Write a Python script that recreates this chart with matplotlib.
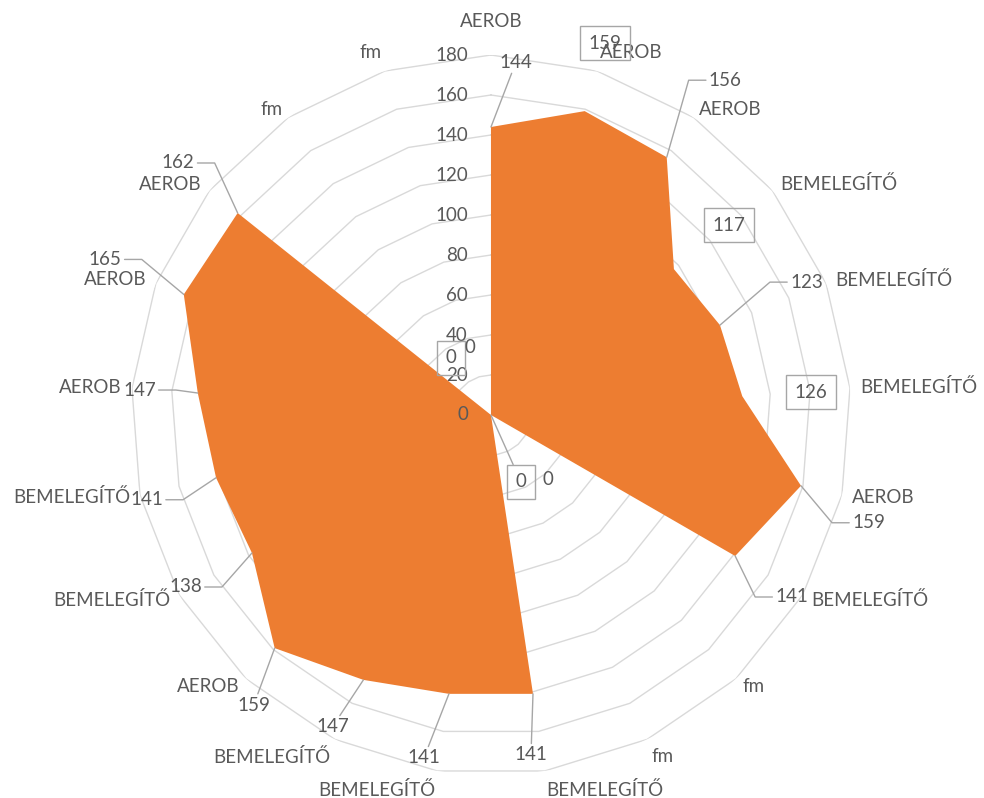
import numpy as np
import matplotlib
matplotlib.use('Agg')
import matplotlib.pyplot as plt

plt.rcParams['font.family'] = ['Lato', 'DejaVu Sans']

# one spoke per session, clockwise from the top
categories = ['AEROB', 'AEROB', 'AEROB', 'BEMELEGÍTŐ', 'BEMELEGÍTŐ',
              'BEMELEGÍTŐ', 'AEROB', 'BEMELEGÍTŐ', 'fm', 'fm',
              'BEMELEGÍTŐ', 'BEMELEGÍTŐ', 'BEMELEGÍTŐ', 'AEROB', 'BEMELEGÍTŐ',
              'BEMELEGÍTŐ', 'AEROB', 'AEROB', 'AEROB', 'fm', 'fm']
values = [144, 159, 156, 117, 123, 126, 159, 141, 0, 0,
          141, 141, 147, 159, 138, 141, 147, 165, 162, 0, 0]
r_ticks = [0, 20, 40, 60, 80, 100, 120, 140, 160, 180]

# value label placement: pixel offset from the point and text alignment
label_offsets = [(25, 65), (20, 68), (42, 77), (55, 44), (70, 43), (69, 4),
                 (51, -37), (40, -41), (57, -65), (30, -67), (-2, -61),
                 (-25, -64), (-31, -47), (-21, -57), (-50, -34), (-53, -22),
                 (-42, 3), (-62, 35), (-43, 50), (-40, 57), (-21, 67)]
label_ha = ['center', 'center', 'left', 'center', 'left', 'center',
            'left', 'left', 'center', 'center', 'center',
            'center', 'center', 'center', 'right', 'right',
            'right', 'right', 'right', 'center', 'center']
boxed = [1, 3, 5, 9, 19]
leaders = [0, 2, 4, 6, 7, 9, 10, 11, 12, 13, 14, 15, 16, 17, 18]
elbow_gap = 20
cat_nudge = {0: (0, 15)}

fill_color = '#ED7D31'
grid_color = '#d9d9d9'
line_color = '#a6a6a6'
text_color = '#595959'
font_size = 13.5

n = len(values)
theta = np.arange(n) * 2 * np.pi / n

fig = plt.figure(figsize=(9.84, 7.98), dpi=100)
ax = fig.add_axes([0.1331, 0.0288, 0.7317, 0.9023], projection='polar')
ax.set_theta_zero_location('N')
ax.set_theta_direction(-1)
ax.set_ylim(0, 180)
ax.grid(False)
ax.set_xticks([])
ax.set_yticks([])
ax.spines['polar'].set_visible(False)

# polygon rings instead of circles
ring_theta = np.append(theta, theta[0])
for r in r_ticks[1:]:
    ax.plot(ring_theta, [r] * (n + 1), color=grid_color, lw=1, zorder=1)

ax.fill(theta, values, color=fill_color, lw=0, zorder=2)

# value axis labels along the top spoke
for t in r_ticks:
    ax.annotate(str(t), xy=(0, t), xytext=(-23, 0), textcoords='offset pixels',
                ha='right', va='center', fontsize=font_size, color=text_color,
                annotation_clip=False, zorder=5)

# category names outside the outer ring
for i, cat in enumerate(categories):
    s, c = np.sin(theta[i]), np.cos(theta[i])
    ha = 'center' if abs(s) < 0.05 else ('left' if s > 0 else 'right')
    va = 'center'
    if c > 0.9:
        va = 'bottom'
    elif c < -0.9:
        va = 'top'
    ax.annotate(cat, xy=(theta[i], 185), xytext=cat_nudge.get(i, (0, 0)),
                textcoords='offset pixels', ha=ha, va=va, fontsize=font_size,
                color=text_color, annotation_clip=False, zorder=5)

# value labels, side ones get a bent leader line
for i, v in enumerate(values):
    dx, dy = label_offsets[i]
    ha = label_ha[i]
    bbox = None
    if i in boxed:
        bbox = dict(boxstyle='square,pad=0.45', fc='none', ec=line_color, lw=1)
    arrow = None
    if i in leaders:
        arrow = dict(arrowstyle='-', color=line_color, lw=1,
                     shrinkA=0, shrinkB=0)
        if ha != 'center':
            side = 1 if ha == 'left' else -1
            corner_x = dx - side * elbow_gap
            ang = np.degrees(np.arctan2(dy, corner_x))
            arrow['relpos'] = (0, 0.5) if side == 1 else (1, 0.5)
            arrow['connectionstyle'] = 'angle,angleA=0,angleB=%.1f,rad=0' % ang
    ax.annotate(str(v), xy=(theta[i], v), xytext=(dx, dy),
                textcoords='offset pixels', ha=ha, va='center',
                fontsize=font_size, color=text_color, bbox=bbox,
                arrowprops=arrow, annotation_clip=False, zorder=6)

fig.savefig('out.png', dpi=100, facecolor='white')
